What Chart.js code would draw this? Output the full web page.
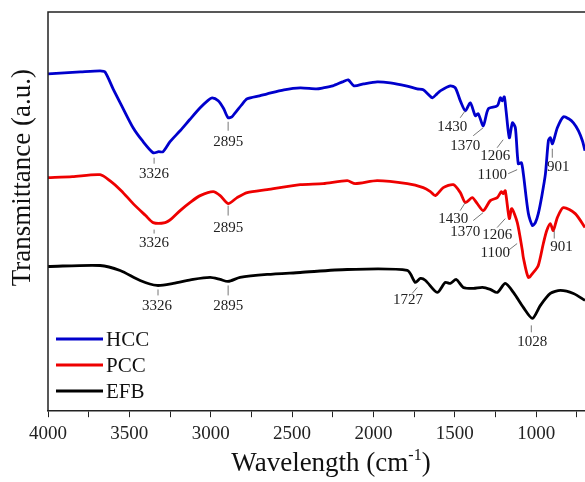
<!DOCTYPE html>
<html>
<head>
<meta charset="utf-8">
<script src="https://cdn.jsdelivr.net/npm/chart.js@4.4.1/dist/chart.umd.min.js"></script>
<style>
  html, body { margin: 0; padding: 0; background: #fff; }
  #wrap { width: 585px; height: 482px; position: relative; }
</style>
</head>
<body>
<div id="wrap"><canvas id="myChart"></canvas></div>
<script>
// wavenumbers (cm-1) and transmittance (a.u., offset per sample)
var hccX = [4000, 3900, 3800, 3680, 3650, 3600, 3550, 3477, 3420, 3354, 3320, 3293, 3250, 3188, 3130, 3065, 3020, 2991, 2954, 2920, 2893, 2870, 2850, 2810, 2776, 2700, 2653, 2550, 2450, 2350, 2309, 2250, 2190, 2155, 2120, 2060, 1977, 1897, 1800, 1731, 1694, 1660, 1638, 1610, 1589, 1528, 1497, 1466, 1435, 1405, 1374, 1356, 1325, 1294, 1239, 1220, 1208, 1196, 1185, 1165, 1146, 1128, 1110, 1091, 1079, 1048, 1023, 1005, 987, 965, 943, 925, 913, 900, 870, 833, 800, 771, 740, 716, 700];
var hccY = [338, 339, 340, 341, 340, 323, 307, 284, 271, 259, 260, 260, 270, 281, 292, 304, 311, 314, 311, 303, 294, 295, 299, 307, 313, 316, 318, 322, 324, 323, 324, 326, 330, 332, 326, 328, 330, 329, 326, 323, 322, 317, 314, 318, 321, 326, 324, 311, 301, 309, 296, 298, 286, 303, 306, 314, 311, 315, 301, 274, 289, 284, 248, 249, 238, 198, 186, 189, 198, 216, 238, 271, 274, 268, 284, 295, 293, 289, 281, 271, 261];

var pccX = [4000, 3850, 3680, 3620, 3550, 3477, 3400, 3354, 3280, 3240, 3188, 3120, 3065, 2985, 2942, 2893, 2838, 2776, 2653, 2450, 2309, 2161, 2112, 1977, 1792, 1694, 1650, 1620, 1571, 1509, 1466, 1435, 1393, 1362, 1325, 1282, 1239, 1214, 1202, 1190, 1165, 1150, 1116, 1085, 1079, 1048, 1017, 987, 956, 935, 913, 895, 870, 833, 760, 700];
var pccY = [234, 235, 237, 231, 221, 208, 196, 189, 189, 193, 201, 210, 216, 220, 216, 208, 214, 219, 222, 227, 228, 231, 228, 231, 228, 224, 220, 216, 224, 227, 219, 209, 214, 208, 201, 211, 214, 220, 218, 221, 193, 203, 189, 161, 154, 134, 139, 146, 168, 181, 188, 181, 194, 204, 198, 184];

var efbX = [4000, 3680, 3557, 3434, 3330, 3230, 3108, 3004, 2942, 2893, 2820, 2653, 2450, 2161, 1792, 1743, 1712, 1680, 1608, 1559, 1528, 1491, 1448, 1386, 1330, 1282, 1239, 1190, 1140, 1079, 1023, 974, 913, 851, 771, 700];
var efbY = [145, 146, 141, 131, 126, 128, 132, 134, 132, 130, 134, 137, 139, 142, 141, 129, 133, 131, 119, 129, 128, 132, 124, 123, 124, 122, 119, 128, 119, 104, 93, 106, 118, 121, 118, 111];

var seriesNames = ['HCC', 'PCC', 'EFB'];
var seriesColors = ['#0000cc', '#ee0000', '#000000'];

// x ticks every 250, labels only every 500
var tickVals = [4000, 3750, 3500, 3250, 3000, 2750, 2500, 2250, 2000, 1750, 1500, 1250, 1000, 750];

// peak labels: text, text position (wn, value), leader line from (wn, value) to (wn, value)
var peakText = ['3326', '2895', '1430', '1370', '1206', '1100', '901',
                '3326', '2895', '1430', '1370', '1206', '1100', '901',
                '3326', '2895', '1727', '1028'];
var peakTextX = [3348, 2893, 1516, 1436, 1252, 1270, 865,
                 3348, 2893, 1510, 1436, 1240, 1252, 845,
                 3330, 2893, 1787, 1024];
var peakTextY = [238, 270, 285, 266, 256, 237, 245,
                 168, 184, 193, 179, 176, 158, 164,
                 105, 105, 111, 69];
var lineX1 = [3348, 2893, 1436, 1326, 1203, 1117, 901,
              3348, 2893, 1436, 1326, 1190, 1117, 889,
              3324, 2893, 1731, 1030];
var lineY1 = [254, 290, 301, 284, 272, 242, 263,
              182, 206, 209, 199, 193, 168, 181,
              122, 126, 124, 86];
var lineX2 = [3348, 2893, 1467, 1387, 1240, 1172, 901,
              3348, 2893, 1467, 1387, 1240, 1172, 889,
              3324, 2893, 1762, 1030];
var lineY2 = [248, 281, 294, 276, 264, 238, 254,
              178, 196, 201, 191, 184, 161, 173,
              116, 116, 118, 79];

var SERIF = "'Liberation Serif', 'Times New Roman', serif";

function toPoints(xs, ys) {
    let pts = [];
    for (let i = 0; i < xs.length; i++) {
        pts.push({ x: xs[i], y: ys[i] });
    }
    return pts;
}

// frame, peak labels, legend and axis titles
const decorPlugin = {
    id: 'decor',
    afterDatasetsDraw(chart) {
        const ctx = chart.ctx;
        const a = chart.chartArea;
        const xs = chart.scales.x;
        const ys = chart.scales.y;

        ctx.save();
        // left and top frame
        ctx.strokeStyle = '#222';
        ctx.lineWidth = 1.5;
        ctx.beginPath();
        ctx.moveTo(a.left, a.bottom);
        ctx.lineTo(a.left, a.top);
        ctx.lineTo(a.right, a.top);
        ctx.stroke();

        // leader lines + peak labels
        ctx.strokeStyle = '#777';
        ctx.lineWidth = 1;
        for (let i = 0; i < peakText.length; i++) {
            ctx.beginPath();
            ctx.moveTo(xs.getPixelForValue(lineX1[i]), ys.getPixelForValue(lineY1[i]));
            ctx.lineTo(xs.getPixelForValue(lineX2[i]), ys.getPixelForValue(lineY2[i]));
            ctx.stroke();
        }
        ctx.fillStyle = '#222';
        ctx.font = '15px ' + SERIF;
        ctx.textAlign = 'center';
        ctx.textBaseline = 'middle';
        for (let i = 0; i < peakText.length; i++) {
            ctx.fillText(peakText[i], xs.getPixelForValue(peakTextX[i]), ys.getPixelForValue(peakTextY[i]));
        }

        // legend
        ctx.font = '21px ' + SERIF;
        ctx.textAlign = 'left';
        for (let i = 0; i < chart.data.datasets.length; i++) {
            let ds = chart.data.datasets[i];
            let yy = a.top + 327 + i * 26;
            ctx.strokeStyle = ds.borderColor;
            ctx.lineWidth = 3;
            ctx.beginPath();
            ctx.moveTo(a.left + 8, yy);
            ctx.lineTo(a.left + 55, yy);
            ctx.stroke();
            ctx.fillStyle = '#111';
            ctx.fillText(ds.label, a.left + 58, yy + 1);
        }

        // y title
        ctx.fillStyle = '#111';
        ctx.font = '27px ' + SERIF;
        ctx.save();
        ctx.translate(23, (a.top + a.bottom) / 2 - 34);
        ctx.rotate(-Math.PI / 2);
        ctx.textAlign = 'center';
        ctx.textBaseline = 'middle';
        ctx.fillText('Transmittance (a.u.)', 0, 0);
        ctx.restore();

        // x title with superscript
        let main = 'Wavelength (cm';
        let sup = '-1';
        let end = ')';
        ctx.font = '27px ' + SERIF;
        let w1 = ctx.measureText(main).width;
        let w3 = ctx.measureText(end).width;
        ctx.font = '16px ' + SERIF;
        let w2 = ctx.measureText(sup).width;
        let total = w1 + w2 + w3;
        let cx = 331;
        let x0 = cx - total / 2;
        let base = 471;
        ctx.textAlign = 'left';
        ctx.textBaseline = 'alphabetic';
        ctx.font = '27px ' + SERIF;
        ctx.fillText(main, x0, base);
        ctx.font = '16px ' + SERIF;
        ctx.fillText(sup, x0 + w1, base - 11);
        ctx.font = '27px ' + SERIF;
        ctx.fillText(end, x0 + w1 + w2, base);
        ctx.restore();
    }
};

const ctx = document.getElementById('myChart').getContext('2d');
const myChart = new Chart(ctx, {
    type: 'line',
    data: {
        datasets: [
            {
                label: seriesNames[0],
                data: toPoints(hccX, hccY),
                borderColor: seriesColors[0],
            },
            {
                label: seriesNames[1],
                data: toPoints(pccX, pccY),
                borderColor: seriesColors[1],
            },
            {
                label: seriesNames[2],
                data: toPoints(efbX, efbY),
                borderColor: seriesColors[2],
            }
        ]
    },
    options: {
        responsive: true,
        maintainAspectRatio: false,
        animation: false,
        layout: {
            padding: { left: 48, top: 12, right: 0, bottom: 32 }
        },
        elements: {
            point: { radius: 0 },
            line: { borderWidth: 2.8, tension: 0.25 }
        },
        plugins: {
            legend: { display: false },
            tooltip: { enabled: false }
        },
        scales: {
            x: {
                type: 'linear',
                reverse: true,
                min: 700,
                max: 4000,
                afterBuildTicks: function (scale) {
                    scale.ticks = tickVals.map(v => ({ value: v }));
                },
                border: { display: true, color: '#222', width: 1.5 },
                grid: {
                    display: true,
                    drawOnChartArea: false,
                    drawTicks: true,
                    tickLength: 6,
                    color: '#222'
                },
                ticks: {
                    autoSkip: false,
                    maxRotation: 0,
                    padding: 5,
                    color: '#222',
                    font: { family: SERIF, size: 19 },
                    callback: function (v) {
                        let n = Math.round(Number(v));
                        return n % 500 === 0 ? String(n) : '';
                    }
                }
            },
            y: {
                display: false,
                min: 0,
                max: 400
            }
        }
    },
    plugins: [decorPlugin]
});
</script>
</body>
</html>
